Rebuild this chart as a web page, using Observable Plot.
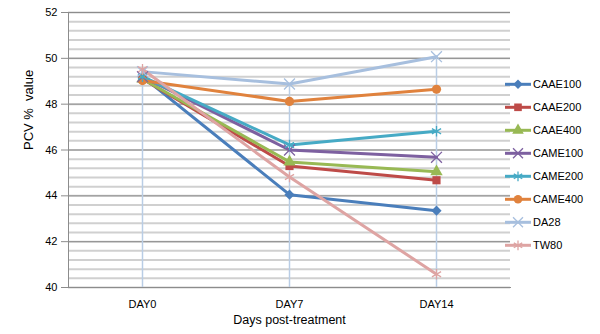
<!DOCTYPE html>
<html><head><meta charset="utf-8">
<script src="https://cdn.jsdelivr.net/npm/d3@7"></script>
<script src="https://cdn.jsdelivr.net/npm/@observablehq/plot@0.6"></script>
<style>body{margin:0;background:#fff}#chart{width:600px;height:334px}</style>
</head><body><div id="chart"></div>
<script>
const days = ["DAY0", "DAY7", "DAY14"];
const seriesNames = ["CAAE100", "CAAE200", "CAAE400", "CAME100", "CAME200", "CAME400", "DA28", "TW80"];
const CAAE100 = [49.2, 44.05, 43.35];
const CAAE200 = [49.1, 45.3, 44.68];
const CAAE400 = [49.1, 45.48, 45.05];
const CAME100 = [49.2, 46.0, 45.68];
const CAME200 = [49.2, 46.22, 46.82];
const CAME400 = [49.03, 48.12, 48.65];
const DA28 = [49.42, 48.88, 50.07];
const TW80 = [49.52, 44.82, 40.58];
const yTicks = [40, 42, 44, 46, 48, 50, 52];
const colors = ["#4a7ebb", "#be4b48", "#98b954", "#7d60a0", "#46aac5", "#e0823d", "#a7bfde", "#dea4a3"];
const symbols = ["diamond2", "square", "triangle", "times", "asterisk", "circle", "times", "asterisk"];
const filled = [true, true, true, false, false, true, false, false];

const seriesValues = [CAAE100, CAAE200, CAAE400, CAME100, CAME200, CAME400, DA28, TW80];
const rows = seriesNames.flatMap((s, i) => days.map((d, j) => ({series: s, day: d, value: seriesValues[i][j], filled: filled[i]})));
const dropRows = days.map((d, j) => ({day: d, max: d3.max(seriesValues, v => v[j])}));
const minorTicks = d3.range(0, 31).map(i => 40 + i * 0.4);

const chart = Plot.plot({
  width: 600, height: 334,
  marginLeft: 68, marginRight: 90, marginTop: 12, marginBottom: 47,
  style: {fontFamily: "'Liberation Sans', Arial, sans-serif", fontSize: "11px", background: "#fff", color: "#000"},
  x: {type: "point", domain: days, padding: 0.5, label: null},
  y: {domain: [40, 52], label: null},
  color: {domain: seriesNames, range: colors},
  symbol: {domain: seriesNames, range: symbols},
  marks: [
    Plot.ruleY(minorTicks, {stroke: "#d0d0d0", strokeWidth: 2}),
    Plot.ruleY(yTicks, {stroke: "#8c8c8c", strokeWidth: 1}),
    Plot.ruleX(dropRows, {x: "day", y1: 40, y2: "max", stroke: "#b9cde5", strokeWidth: 1.5}),
    Plot.frame({anchor: "left", stroke: "#8c8c8c"}),
    Plot.frame({anchor: "bottom", stroke: "#8c8c8c"}),
    Plot.axisY({ticks: yTicks, tickSize: 7, tickPadding: 4, stroke: "#8c8c8c", fill: "#000", tickFormat: d => d, label: null}),
    Plot.axisX({tickSize: 0, tickPadding: 13, fill: "#000", label: null}),
    Plot.line(rows, {x: "day", y: "value", z: "series", stroke: "series", strokeWidth: 3}),
    Plot.dot(rows.filter(r => r.filled), {x: "day", y: "value", symbol: "series", fill: "series", r: 4.6}),
    Plot.dot(rows.filter(r => !r.filled), {x: "day", y: "value", symbol: "series", stroke: "series", strokeWidth: 1.3, r: 5}),
    Plot.text(["Days post-treatment"], {frameAnchor: "bottom", dy: 36, fontSize: 12.5, fill: "#000"}),
    Plot.text(["PCV %\u00a0 value"], {frameAnchor: "left", dx: -40, rotate: -90, fontSize: 13, fill: "#000"})
  ]
});
document.getElementById("chart").appendChild(chart);

// legend
const svg = d3.select(chart);
const lg = svg.append("g").attr("font-family", "'Liberation Sans', Arial, sans-serif").attr("font-size", 11).attr("text-anchor", "start");
const symMap = {diamond2: d3.symbolDiamond2, square: d3.symbolSquare, triangle: d3.symbolTriangle, times: d3.symbolTimes, asterisk: d3.symbolAsterisk, circle: d3.symbolCircle};
seriesNames.forEach((s, i) => {
  const y = 84.3 + i * 23;
  const g = lg.append("g").attr("transform", `translate(0,${y})`);
  g.append("line").attr("x1", 505).attr("x2", 531).attr("y1", 0).attr("y2", 0).attr("stroke", colors[i]).attr("stroke-width", 3);
  const r = filled[i] ? 4.3 : 4.6;
  const p = g.append("path").attr("transform", "translate(518,0)").attr("d", d3.symbol(symMap[symbols[i]], Math.PI * r * r)());
  if (filled[i]) p.attr("fill", colors[i]); else p.attr("fill", "none").attr("stroke", colors[i]).attr("stroke-width", 1.3);
  g.append("text").attr("x", 533).attr("y", 0).attr("dy", "0.35em").attr("fill", "#000").attr("text-anchor", "start").text(s);
});
</script>
</body></html>
